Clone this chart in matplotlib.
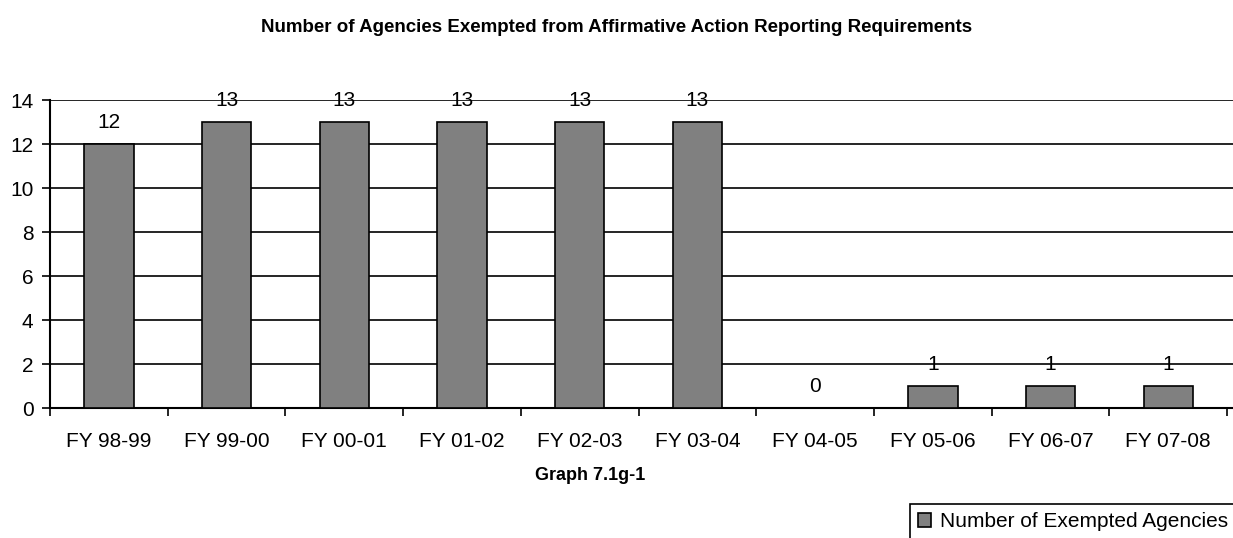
import matplotlib.pyplot as plt
import numpy as np

plt.rcParams['font.family'] = ['Liberation Sans', 'DejaVu Sans']

years = ['FY 98-99', 'FY 99-00', 'FY 00-01', 'FY 01-02', 'FY 02-03',
         'FY 03-04', 'FY 04-05', 'FY 05-06', 'FY 06-07', 'FY 07-08']
agencies = [12, 13, 13, 13, 13, 13, 0, 1, 1, 1]

fig = plt.figure(figsize=(12.33, 5.38), dpi=100)
ax = fig.add_axes([0.0406, 0.2416, 0.9594, 0.5725])

x = np.arange(len(years))
ax.bar(x, agencies, width=0.42, color='#808080', edgecolor='black',
       linewidth=1.2, label='Number of Exempted Agencies', zorder=3)

for xi, v in zip(x, agencies):
    ax.annotate(str(v), (xi, v), xytext=(0, 9), textcoords='offset points',
                ha='center', va='bottom', fontsize=15)

ax.set_xlim(-0.5, len(years) - 0.45)
ax.set_ylim(0, 14)
ax.set_yticks(np.arange(0, 15, 2))
ax.yaxis.grid(True, color='black', linewidth=1.2, zorder=0)
ax.set_axisbelow(True)

ax.set_xticks(x)
ax.set_xticklabels(years, fontsize=15)
ax.set_xticks(np.arange(-0.5, len(years)), minor=True)
ax.tick_params(axis='x', which='major', length=0, pad=17)
ax.tick_params(axis='x', which='minor', length=6, width=1.2, direction='out')
ax.tick_params(axis='y', length=6, width=1.2, labelsize=15, direction='out', pad=6)

for s in ['top', 'right']:
    ax.spines[s].set_visible(False)
ax.spines['left'].set_linewidth(1.5)
ax.spines['bottom'].set_linewidth(1.5)

fig.text(0.5, 0.948, 'Number of Agencies Exempted from Affirmative Action Reporting Requirements',
         ha='center', va='center', fontsize=13.5, fontweight='bold')
fig.text(0.479, 0.117, 'Graph 7.1g-1', ha='center', va='center',
         fontsize=13, fontweight='bold')

leg = fig.legend(loc='upper left', bbox_to_anchor=(0.738, 0.063), fontsize=15,
                 frameon=True, fancybox=False, edgecolor='black', framealpha=1,
                 handlelength=0.63, handleheight=0.63, handletextpad=0.43,
                 borderpad=0.4, borderaxespad=0)
leg.get_frame().set_linewidth(1.2)

fig.savefig('out.png', dpi=100)
